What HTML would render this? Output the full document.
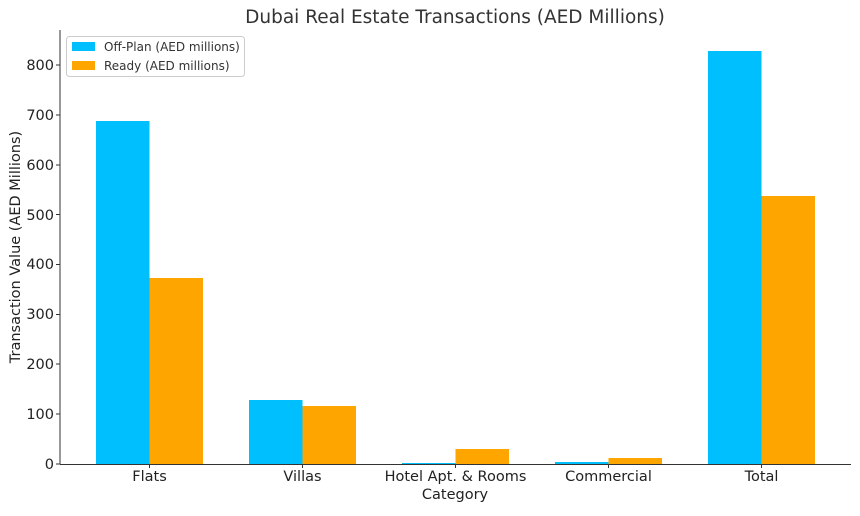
<!DOCTYPE html><html><head><style>body{margin:0;background:#fff}svg{font-family:"DejaVu Sans","Liberation Sans",sans-serif}</style></head><body>
<svg width="860" height="511" xmlns="http://www.w3.org/2000/svg">
<text x="455" y="23" font-size="18.5" text-anchor="middle" fill="#333">Dubai Real Estate Transactions (AED Millions)</text>
<g fill="#00BFFF">
<rect x="96" y="121" width="53.5" height="343"/>
<rect x="249" y="400" width="53.5" height="64"/>
<rect x="402" y="463" width="53.5" height="1"/>
<rect x="555" y="462" width="53.5" height="2"/>
<rect x="708" y="51" width="53.5" height="413"/>
</g>
<g fill="#FFA500">
<rect x="149.5" y="278" width="53.5" height="186"/>
<rect x="302.5" y="406" width="53.5" height="58"/>
<rect x="455.5" y="449" width="53.5" height="15"/>
<rect x="608.5" y="458" width="53.5" height="6"/>
<rect x="761.5" y="196" width="53.5" height="268"/>
</g>
<g stroke="#333" stroke-width="1" fill="none">
<line x1="60" y1="30" x2="60" y2="464.5"/><line x1="60" y1="464.5" x2="851" y2="464.5"/>
</g>
<g font-size="14.5" fill="#222" text-anchor="end">
<text x="54" y="469">0</text><text x="54" y="419">100</text><text x="54" y="369">200</text><text x="54" y="319">300</text><text x="54" y="269">400</text><text x="54" y="220">500</text><text x="54" y="170">600</text><text x="54" y="120">700</text><text x="54" y="70">800</text>
</g>
<g stroke="#333"><line x1="56" x2="60" y1="464" y2="464"/><line x1="56" x2="60" y1="414" y2="414"/><line x1="56" x2="60" y1="364" y2="364"/><line x1="56" x2="60" y1="314.5" y2="314.5"/><line x1="56" x2="60" y1="264.5" y2="264.5"/><line x1="56" x2="60" y1="214.5" y2="214.5"/><line x1="56" x2="60" y1="165" y2="165"/><line x1="56" x2="60" y1="115" y2="115"/><line x1="56" x2="60" y1="65" y2="65"/>
<line x1="149.5" x2="149.5" y1="464" y2="468"/><line x1="302.5" x2="302.5" y1="464" y2="468"/><line x1="455.5" x2="455.5" y1="464" y2="468"/><line x1="608.5" x2="608.5" y1="464" y2="468"/><line x1="761.5" x2="761.5" y1="464" y2="468"/></g>
<g font-size="14.5" fill="#222" text-anchor="middle">
<text x="149.5" y="481">Flats</text><text x="302.5" y="481">Villas</text><text x="455.5" y="481">Hotel Apt. &amp; Rooms</text><text x="608.5" y="481">Commercial</text><text x="761.5" y="481">Total</text>
<text x="455" y="499">Category</text>
<text transform="translate(20,247) rotate(-90)">Transaction Value (AED Millions)</text>
</g>
<rect x="66.5" y="36.5" width="178" height="40" rx="3" fill="#fff" stroke="#ccc"/>
<rect x="72" y="42" width="23" height="9" fill="#00BFFF"/><rect x="72" y="61" width="23" height="9" fill="#FFA500"/>
<g font-size="12" fill="#333"><text x="104" y="51">Off-Plan (AED millions)</text><text x="104" y="70">Ready (AED millions)</text></g>
</svg></body></html>
